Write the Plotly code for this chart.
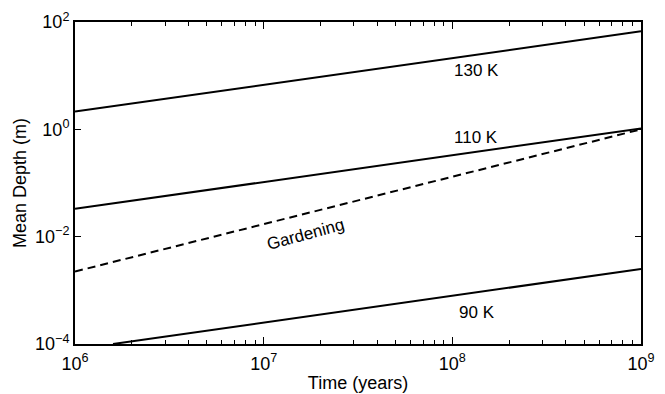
import math
import plotly.graph_objects as go

# Data (time in years, depth in metres)
time_130 = [1e6, 1e9]
depth_130 = [2.14, 67.0]
time_110 = [1e6, 1e9]
depth_110 = [0.033, 1.04]
time_garden = [1e6, 1e9]
depth_garden = [0.00224, 1.0]
time_90 = [1.59e6, 1e9]
depth_90 = [1e-4, 0.0025]

labels = ["130 K", "110 K", "Gardening", "90 K"]
label_x = [1.35e8, 1.33e8, 1.66e7, 1.35e8]
label_y = [12.4, 0.69, 0.0108, 0.00039]
label_angle = [0, 0, -15, 0]

xtick_vals = [1e6, 1e7, 1e8, 1e9]
xtick_text = ["10<sup>6</sup>", "10<sup>7</sup>", "10<sup>8</sup>", "10<sup>9</sup>"]
xminor_vals = [m * 10 ** e for e in (6, 7, 8) for m in range(2, 10)]
ytick_vals = [1e-4, 1e-2, 1e0, 1e2]
ytick_text = ["10<sup>−4</sup>", "10<sup>−2</sup>", "10<sup>0</sup>", "10<sup>2</sup>"]

fig = go.Figure()
line = dict(color="black", width=2)
fig.add_trace(go.Scatter(x=time_130, y=depth_130, mode="lines", line=line))
fig.add_trace(go.Scatter(x=time_110, y=depth_110, mode="lines", line=line))
fig.add_trace(go.Scatter(x=time_garden, y=depth_garden, mode="lines",
                         line=dict(color="black", width=2, dash="8px,5px")))
fig.add_trace(go.Scatter(x=time_90, y=depth_90, mode="lines", line=line))
# invisible trace so the minor-tick overlay axis is drawn
fig.add_trace(go.Scatter(x=time_130, y=depth_130, mode="lines", xaxis="x2",
                         line=dict(width=0), opacity=0, hoverinfo="skip"))

for t, x, y, a in zip(labels, label_x, label_y, label_angle):
    fig.add_annotation(x=math.log10(x), y=math.log10(y), xref="x", yref="y",
                       text=t, showarrow=False, textangle=a,
                       font=dict(size=17, color="black"))

font = dict(family="Liberation Sans, Arial, Helvetica, sans-serif", size=17, color="black")
fig.update_layout(
    width=665, height=394,
    margin=dict(l=75, r=24, t=22, b=50),
    paper_bgcolor="white", plot_bgcolor="white",
    showlegend=False, font=font,
    xaxis=dict(
        type="log", range=[6, 9], automargin=False,
        tickmode="array", tickvals=xtick_vals, ticktext=xtick_text,
        ticks="inside", ticklen=7, tickwidth=1, tickcolor="black",
        showline=True, linecolor="black", linewidth=2, mirror="ticks",
        showgrid=False, zeroline=False,
        tickfont=dict(size=18), ticklabelstandoff=2,
        title=dict(text="Time (years)", font=dict(size=18), standoff=4),
    ),
    xaxis2=dict(type="log", range=[6, 9], overlaying="x", anchor="y", side="bottom",
                automargin=False, tickmode="array", tickvals=xminor_vals,
                showticklabels=False, ticks="inside", ticklen=4, tickwidth=1,
                tickcolor="black", mirror="ticks", showline=False,
                showgrid=False, zeroline=False),
    yaxis=dict(
        type="log", range=[-4, 2], automargin=False,
        tickmode="array", tickvals=ytick_vals, ticktext=ytick_text,
        ticks="inside", ticklen=6, tickwidth=1, tickcolor="black",
        showline=True, linecolor="black", linewidth=2, mirror="ticks",
        showgrid=False, zeroline=False,
        tickfont=dict(size=18),
        title=dict(text="Mean Depth (m)", font=dict(size=18), standoff=4),
    ),
)
fig.write_html("out.html")
